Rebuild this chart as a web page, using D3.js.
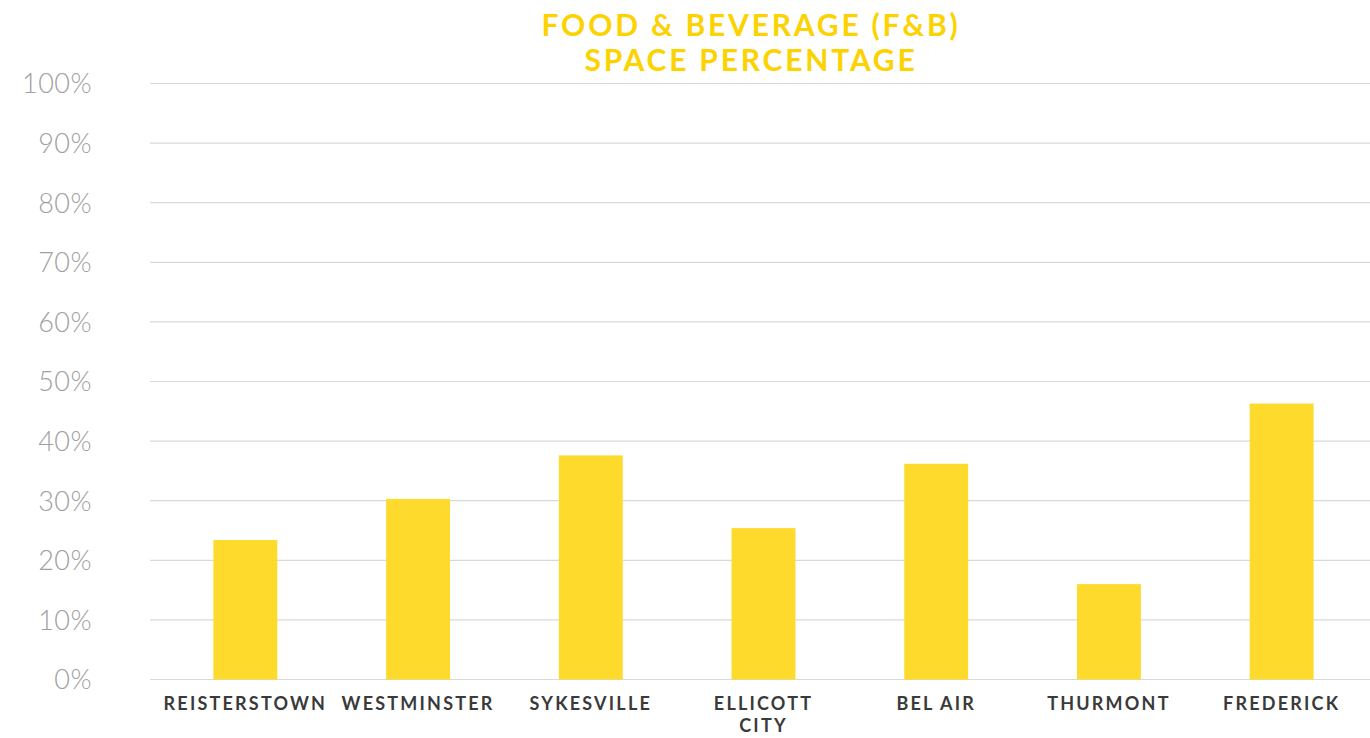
<!DOCTYPE html>
<html><head><meta charset="utf-8">
<script src="https://cdn.jsdelivr.net/npm/d3@7"></script>
<style>
html,body{margin:0;padding:0;background:#fff;}
svg{display:block;}
</style></head>
<body>
<svg id="chart" width="1370" height="738"></svg>
<script>
const categories = ["REISTERSTOWN","WESTMINSTER","SYKESVILLE","ELLICOTT CITY","BEL AIR","THURMONT","FREDERICK"];
const values = [23.4, 30.3, 37.6, 25.4, 36.2, 16.0, 46.3];
const yTicks = [0,10,20,30,40,50,60,70,80,90,100];
const titleLines = ["FOOD & BEVERAGE (F&B)","SPACE PERCENTAGE"];

const svg = d3.select("#chart");
const x = d3.scaleBand().domain(categories).range([159, 1368]).paddingInner(0.63).paddingOuter(0.315);
const y = d3.scaleLinear().domain([0,100]).range([679.5, 83.5]);

// gridlines
svg.append("g").selectAll("line").data(yTicks).join("line")
  .attr("x1",150).attr("x2",1370)
  .attr("y1",d=>y(d)).attr("y2",d=>y(d))
  .attr("stroke","#d9d9d9").attr("stroke-width",1.2);

// y labels
const yAxis = d3.axisLeft(y).tickValues(yTicks).tickFormat(d=>d+"%").tickSize(0).tickPadding(0);
const ga = svg.append("g").attr("transform","translate(92,0)").call(yAxis);
ga.select(".domain").remove();
ga.selectAll("text")
  .attr("font-family","Lato, 'Open Sans', sans-serif")
  .attr("font-weight",300)
  .attr("font-size",27)
  .attr("letter-spacing","0.5px")
  .attr("fill","#a0a0a0")
  .attr("dy","0.35em");

// bars
svg.append("g").selectAll("rect").data(values).join("rect")
  .attr("x",(d,i)=>x(categories[i]))
  .attr("width",x.bandwidth())
  .attr("y",d=>y(d))
  .attr("height",d=>y(0)-y(d))
  .attr("fill","#FDDA2C");

// x labels
const gx = svg.append("g");
categories.forEach(c=>{
  const words = c === "ELLICOTT CITY" ? ["ELLICOTT","CITY"] : [c];
  const cx = x(c)+x.bandwidth()/2;
  const t = gx.append("text")
    .attr("text-anchor","middle")
    .attr("font-family","Lato, 'Open Sans', sans-serif")
    .attr("font-weight",700)
    .attr("font-size",18)
    .attr("letter-spacing","2.2px")
    .attr("fill","#3a3a3a");
  words.forEach((w,i)=>{
    t.append("tspan").attr("x", cx).attr("y", 710 + i*22).text(w);
  });
});

// title
svg.append("g").selectAll("text").data(titleLines).join("text")
  .attr("x",751).attr("y",(d,i)=>36+i*35)
  .attr("text-anchor","middle")
  .attr("font-family","Lato, 'Open Sans', sans-serif")
  .attr("font-weight",700)
  .attr("font-size",30)
  .attr("letter-spacing","2.8px")
  .attr("fill","#FCD200")
  .text(d=>d);
</script>
</body></html>
